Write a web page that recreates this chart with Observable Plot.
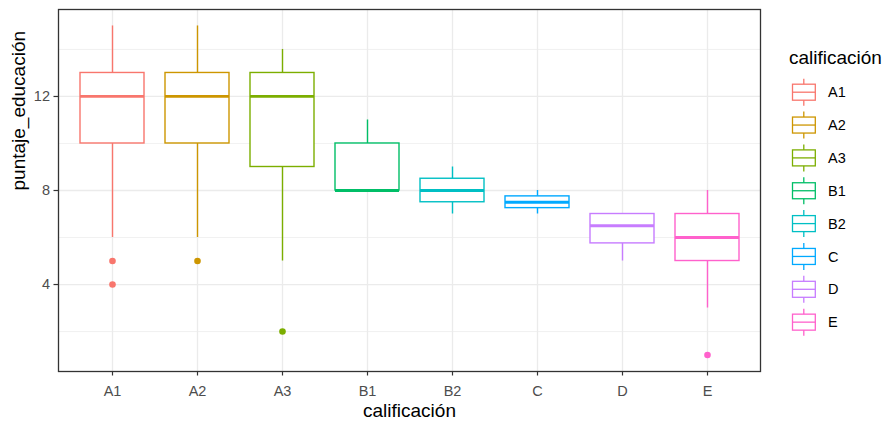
<!DOCTYPE html>
<html><head><meta charset="utf-8">
<script src="https://cdn.jsdelivr.net/npm/d3@7"></script>
<script src="https://cdn.jsdelivr.net/npm/@observablehq/plot@0.6"></script>
<style>
body{margin:0;background:#fff;}
#wrap{position:relative;width:884px;height:423px;font-family:"Liberation Sans",Arial,sans-serif;}
#wrap svg{position:absolute;left:0;top:0;}
g[aria-label="x-axis tick label"], g[aria-label="y-axis tick label"],
g[aria-label="x-axis tick label"] text, g[aria-label="y-axis tick label"] text {fill:#4D4D4D;}
</style></head><body><div id="wrap"></div>
<script>
const categories = ["A1","A2","A3","B1","B2","C","D","E"];
const colors = ["#F8766D","#CD9600","#7CAE00","#00BE67","#00BFC4","#00A9FF","#C77CFF","#FF61CC"];
const whiskerLow = [6,6,5,8,7,7,5,3];
const q1 = [10,10,9,8,7.5,7.25,5.75,5];
const median = [12,12,12,8,8,7.5,6.5,6];
const q3 = [13,13,13,10,8.5,7.75,7,7];
const whiskerHigh = [15,15,14,11,9,8,7,8];
const outlierCategory = ["A1","A1","A2","A3","E"];
const outlierValue = [5,4,5,2,1];
const yMajorTicks = [4,8,12];
const yMinorTicks = [2,6,10,14];
const xTitle = "calificación";
const yTitle = "puntaje_educación";
const legendTitle = "calificación";

const boxes = categories.map((c,i)=>({cat:c, lo:whiskerLow[i], q1:q1[i], med:median[i], q3:q3[i], hi:whiskerHigh[i]}));
const outliers = outlierCategory.map((c,i)=>({cat:c, v:outlierValue[i]}));

const plot = Plot.plot({
  width:884, height:423, marginLeft:58, marginRight:124, marginTop:9, marginBottom:52,
  style:{fontFamily:"'Liberation Sans', Arial, sans-serif", background:"transparent", overflow:"visible"},
  x:{type:"band", domain:categories, paddingInner:0.25, paddingOuter:0.225, align:0.5},
  y:{domain:[0.3,15.7]},
  color:{domain:categories, range:colors},
  marks:[
    Plot.ruleY(yMinorTicks,{y:d=>d, stroke:"#EBEBEB", strokeWidth:0.7}),
    Plot.ruleY(yMajorTicks,{y:d=>d, stroke:"#EBEBEB", strokeWidth:1.3}),
    Plot.ruleX(categories,{x:d=>d, stroke:"#EBEBEB", strokeWidth:1.3}),
    Plot.ruleX(boxes,{x:"cat", y1:"lo", y2:"q1", stroke:"cat", strokeWidth:1.4}),
    Plot.ruleX(boxes,{x:"cat", y1:"q3", y2:"hi", stroke:"cat", strokeWidth:1.4}),
    Plot.barY(boxes,{x:"cat", y1:"q1", y2:"q3", fill:"white", stroke:"cat", strokeWidth:1.4}),
    Plot.tickY(boxes,{x:"cat", y:"med", stroke:"cat", strokeWidth:2.8}),
    Plot.dot(outliers,{x:"cat", y:"v", fill:"cat", r:3.3}),
    Plot.frame({stroke:"#333333", strokeWidth:1.3}),
    Plot.axisX({tickSize:4.5, tickPadding:9.5, fontSize:14.5, label:null, color:"#333333", strokeWidth:1.2}),
    Plot.axisY(yMajorTicks,{tickSize:4.5, tickPadding:4, fontSize:14.5, label:null, color:"#333333", strokeWidth:1.2}),
    Plot.text([xTitle],{text:d=>d, frameAnchor:"bottom", dy:45, fontSize:19, fill:"black"}),
    Plot.text([yTitle],{text:d=>d, frameAnchor:"left", dx:-39.5, rotate:-90, fontSize:19, fill:"black"})
  ]
});
document.getElementById("wrap").appendChild(plot);

// legend
const leg = d3.select("#wrap").append("svg").attr("width",884).attr("height",423)
  .style("font-family","'Liberation Sans', Arial, sans-serif");
leg.append("text").attr("x",789).attr("y",63.5).attr("font-size",19).attr("fill","black").text(legendTitle);
const g = leg.selectAll("g.key").data(categories).join("g")
  .attr("transform",(d,i)=>`translate(0,${92.2 + i*32.85})`);
g.append("line").attr("x1",803.8).attr("x2",803.8).attr("y1",-13.5).attr("y2",13.5)
  .attr("stroke",(d,i)=>colors[i]).attr("stroke-width",1.3);
g.append("rect").attr("x",792.5).attr("y",-8).attr("width",22.8).attr("height",16)
  .attr("fill","white").attr("stroke",(d,i)=>colors[i]).attr("stroke-width",1.3);
g.append("line").attr("x1",792.5).attr("x2",815.3).attr("y1",0).attr("y2",0)
  .attr("stroke",(d,i)=>colors[i]).attr("stroke-width",1.3);
g.append("text").attr("x",828).attr("y",0).attr("dy","0.35em").attr("font-size",14.5)
  .attr("fill","black").text(d=>d);
</script></body></html>
